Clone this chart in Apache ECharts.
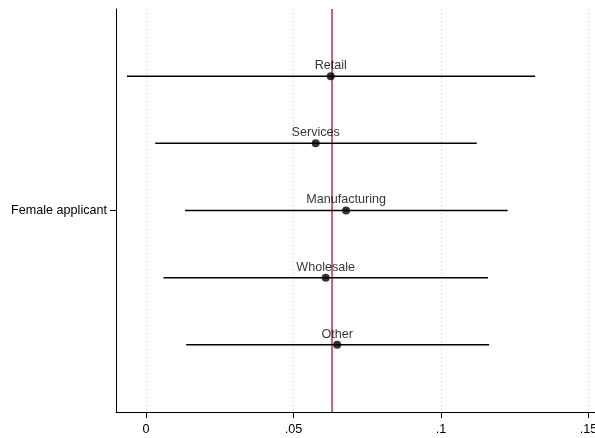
<!DOCTYPE html>
<html>
<head>
<meta charset="utf-8">
<script src="https://cdn.jsdelivr.net/npm/echarts@6/dist/echarts.min.js"></script>
<style>html,body{margin:0;padding:0;background:#fff}#c{width:595px;height:438px}</style>
</head>
<body>
<div id="c"></div>
<script>
var categories = ['Retail', 'Services', 'Manufacturing', 'Wholesale', 'Other'];
var estimates = [0.0626, 0.0575, 0.0678, 0.0609, 0.0648];
var ciLow = [-0.0065, 0.0031, 0.0132, 0.0059, 0.0136];
var ciHigh = [0.1319, 0.1121, 0.1226, 0.1159, 0.1163];
var rowPos = [1, 2, 3, 4, 5];
var refLine = 0.0631;
var xTicks = [0, 0.05, 0.1, 0.15];
var xTickLabels = ['0', '.05', '.1', '.15'];
var yLabel = 'Female applicant';

var font = 'Liberation Sans, Arial, sans-serif';
var fs = 12.6;
var chart = echarts.init(document.getElementById('c'), null, {renderer: 'canvas'});

var ciData = categories.map(function (c, i) { return [ciLow[i], ciHigh[i], rowPos[i]]; });
var ptData = categories.map(function (c, i) { return {value: [estimates[i], rowPos[i]], name: c}; });

chart.setOption({
  animation: false,
  grid: {left: 116, right: 0, top: 9, bottom: 26, containLabel: false, outerBoundsMode: 'none'},
  xAxis: {
    type: 'value', min: -0.0102, max: 0.1522,
    axisLine: {show: true, onZero: false, lineStyle: {color: '#000', width: 1}},
    axisTick: {show: true, length: 6, customValues: xTicks, lineStyle: {color: '#000'}},
    axisLabel: {
      customValues: xTicks, margin: 11, color: '#000', fontFamily: font, fontSize: fs,
      hideOverlap: false,
      formatter: function (v) {
        for (var i = 0; i < xTicks.length; i++) if (Math.abs(v - xTicks[i]) < 1e-9) return xTickLabels[i];
        return '';
      }
    },
    splitLine: {show: false}
  },
  yAxis: {
    type: 'value', min: 0, max: 6, inverse: true,
    axisLine: {show: true, onZero: false, lineStyle: {color: '#000', width: 1}},
    axisTick: {show: true, length: 6, customValues: [3], lineStyle: {color: '#000'}},
    axisLabel: {customValues: [3], margin: 9, color: '#000', fontFamily: font, fontSize: fs,
      formatter: function () { return yLabel; }},
    splitLine: {show: false}
  },
  series: [
    {
      type: 'custom',
      data: ciData,
      z: 3,
      encode: {x: [0, 1], y: 2},
      renderItem: function (params, api) {
        var a = api.coord([api.value(0), api.value(2)]);
        var b = api.coord([api.value(1), api.value(2)]);
        return {type: 'line', shape: {x1: a[0], y1: a[1], x2: b[0], y2: b[1]},
          style: {stroke: '#000', lineWidth: 1.5}};
      }
    },
    {
      type: 'scatter',
      data: ptData,
      symbol: 'circle', symbolSize: 8, z: 5,
      itemStyle: {color: '#000'},
      label: {show: true, position: 'top', distance: 0, formatter: '{b}', color: '#000', fontFamily: font, fontSize: fs},
      markLine: {
        silent: true, symbol: 'none', label: {show: false}, z: 1, precision: 6,
        data: xTicks.map(function (t) { return {xAxis: t, lineStyle: {color: '#c8c8c8', type: [1, 3], width: 1}}; })
          .concat([{xAxis: refLine, lineStyle: {color: '#c8385e', type: 'solid', width: 1.6}}])
      }
    }
  ]
});
</script>
</body>
</html>
